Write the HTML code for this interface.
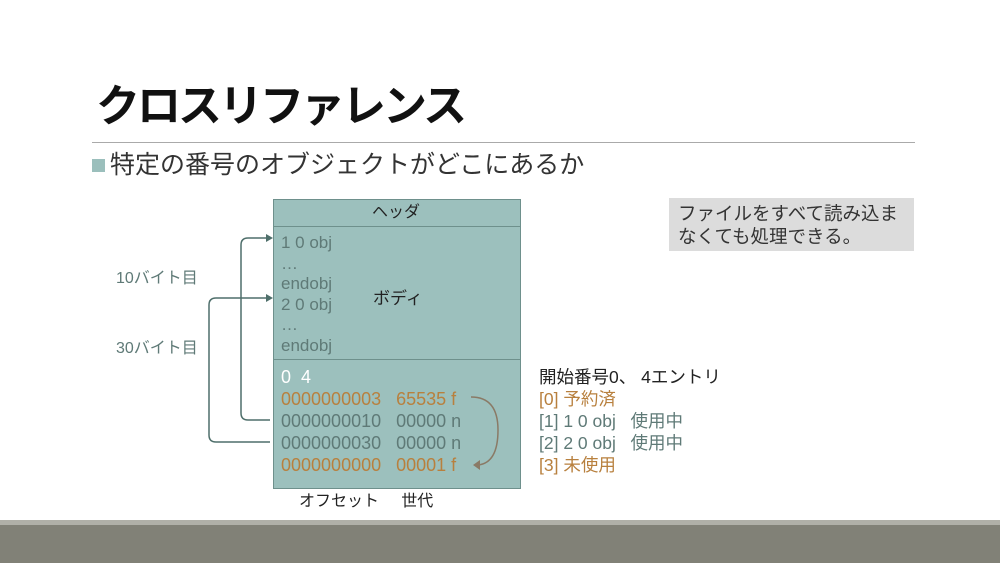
<!DOCTYPE html>
<html><head><meta charset="utf-8"><style>
body{margin:0;width:1000px;height:563px;background:#fff;position:relative;overflow:hidden;font-family:"Liberation Sans","Noto Sans CJK JP",sans-serif;}
.a{position:absolute;white-space:nowrap;line-height:1;}
.g{color:#5f7a77}.o{color:#b8803e}
</style></head><body>
<div class="a" style="left:96px;top:85px;font-size:44px;font-weight:bold;color:#111;letter-spacing:-3px;">クロスリファレンス</div>
<div class="a" style="left:92px;top:142px;width:823px;height:1px;background:#aaa;"></div>
<div class="a" style="left:92px;top:159px;width:13px;height:13px;background:#9bbfbc;"></div>
<div class="a" style="left:110px;top:153px;font-size:25px;color:#333;">特定の番号のオブジェクトがどこにあるか</div>

<div class="a" style="left:273px;top:199px;width:246px;height:288px;background:#9cc0bd;border:1px solid #6e908c;"></div>
<div class="a" style="left:274px;top:226px;width:246px;height:1px;background:#6e908c;"></div>
<div class="a" style="left:274px;top:359px;width:246px;height:1px;background:#6e908c;"></div>
<div class="a" style="left:372px;top:205px;font-size:16px;color:#222;">ヘッダ</div>
<div class="a" style="left:373px;top:290px;font-size:17px;color:#222;">ボディ</div>
<div class="a g" style="left:281px;top:233px;font-size:17px;line-height:20.5px;">1 0 obj<br>…<br>endobj<br>2 0 obj<br>…<br>endobj</div>
<div class="a" style="left:281px;top:366px;font-size:18px;line-height:22px;">
<span style="color:#fff">0&nbsp;&nbsp;4</span><br>
<span class="o">0000000003&nbsp;&nbsp;&nbsp;65535 f</span><br>
<span class="g">0000000010&nbsp;&nbsp;&nbsp;00000 n</span><br>
<span class="g">0000000030&nbsp;&nbsp;&nbsp;00000 n</span><br>
<span class="o">0000000000&nbsp;&nbsp;&nbsp;00001 f</span></div>
<div class="a" style="left:299px;top:494px;font-size:16px;color:#222;">オフセット&nbsp;&nbsp;&nbsp;&nbsp;&nbsp;世代</div>
<div class="a g" style="left:116px;top:271px;font-size:16px;">10バイト目</div>
<div class="a g" style="left:116px;top:341px;font-size:16px;">30バイト目</div>

<svg class="a" style="left:0;top:0" width="1000" height="563">
<path d="M270 420 H248 Q241 420 241 413 V245 Q241 238 248 238 H268" fill="none" stroke="#4f6f6b" stroke-width="1.5"/>
<polygon points="273,238 266,234 266,242" fill="#4f6f6b"/>
<path d="M270 442 H216 Q209 442 209 435 V305 Q209 298 216 298 H268" fill="none" stroke="#4f6f6b" stroke-width="1.5"/>
<polygon points="273,298 266,294 266,302" fill="#4f6f6b"/>
<path d="M471 397 Q498 397 498 430 Q498 463 478 465" fill="none" stroke="#8a7a66" stroke-width="1.5"/>
<polygon points="473,465 480,460 480,470" fill="#8a7a66"/>
</svg>

<div class="a" style="left:669px;top:198px;width:245px;height:53px;background:#dcdcdc;"></div>
<div class="a" style="left:678px;top:202px;font-size:18.5px;line-height:23px;color:#333;">ファイルをすべて読み込ま<br>なくても処理できる。</div>

<div class="a" style="left:539px;top:366px;font-size:17.5px;line-height:22px;">
<span style="color:#222">開始番号0、 4エントリ</span><br>
<span class="o">[0] 予約済</span><br>
<span class="g">[1] 1 0 obj&nbsp;&nbsp;&nbsp;使用中</span><br>
<span class="g">[2] 2 0 obj&nbsp;&nbsp;&nbsp;使用中</span><br>
<span class="o">[3] 未使用</span></div>

<div class="a" style="left:0;top:520px;width:1000px;height:5px;background:#b0b0a8;"></div>
<div class="a" style="left:0;top:525px;width:1000px;height:38px;background:#818177;"></div>
</body></html>
